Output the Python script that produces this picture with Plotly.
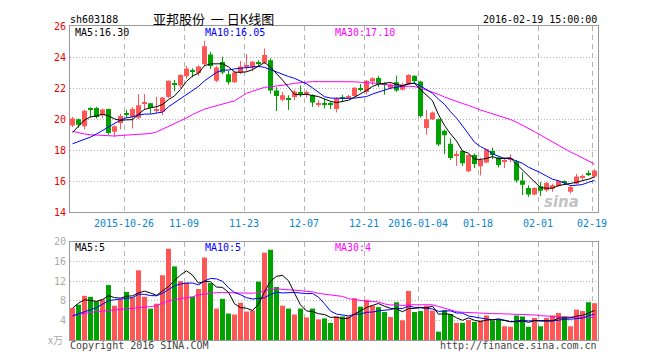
import plotly.graph_objects as go

# ---------------- data ----------------
trading_days = {
    "2015-10": [13, 14, 15, 16, 19, 20, 21, 22, 23, 26, 27, 28, 29, 30],
    "2015-11": [2, 3, 4, 5, 6, 9, 10, 11, 12, 13, 16, 17, 18, 19, 20, 23, 24, 25, 26, 27, 30],
    "2015-12": [1, 2, 3, 4, 7, 8, 9, 10, 11, 14, 15, 16, 17, 18, 21, 22, 23, 24, 25, 28, 29, 30, 31],
    "2016-01": [4, 5, 6, 7, 8, 11, 12, 13, 14, 15, 18, 19, 20, 21, 22, 25, 26, 27, 28, 29],
    "2016-02": [1, 2, 3, 4, 5, 15, 16, 17, 18, 19],
}
dates = [f"{m}-{d:02d}" for m, ds in trading_days.items() for d in ds]

opens = [19.60, 20.00, 19.55, 20.70, 20.72, 20.25, 20.65, 19.20, 19.75, 20.37,
         20.15, 20.10, 21.05, 21.02, 20.55, 20.48, 21.43, 22.30, 22.17, 22.76,
         23.10, 22.97, 23.54, 24.17, 22.48, 23.68, 22.90, 22.38, 23.01, 23.40,
         23.33, 23.65, 23.64, 23.79, 21.85, 21.26, 21.35, 21.43, 21.73, 21.70,
         21.54, 21.00, 21.02, 20.98, 20.65, 21.40, 21.40, 21.50, 21.98, 21.75,
         22.42, 22.65, 22.30, 22.02, 22.38, 21.90, 22.27, 22.80, 22.42, 19.43,
         20.00, 20.00, 19.26, 18.42, 17.68, 17.96, 16.65, 17.70, 16.97, 17.22,
         17.96, 17.54, 17.30, 17.40, 17.28, 16.06, 15.58, 15.16, 15.68, 15.43,
         15.54, 15.70, 15.98, 15.33, 15.85, 16.30, 16.50, 16.32]
highs = [20.15, 20.05, 20.60, 20.78, 20.80, 20.68, 20.68, 19.60, 20.35, 20.60,
         20.78, 21.62, 21.62, 21.05, 21.45, 21.43, 22.50, 22.53, 22.90, 23.43,
         23.28, 23.47, 25.05, 24.34, 23.43, 24.02, 23.12, 23.12, 23.75, 24.20,
         23.75, 23.80, 24.55, 23.92, 22.06, 21.75, 21.54, 21.90, 22.17, 21.85,
         21.60, 21.22, 21.33, 21.12, 21.40, 21.58, 21.58, 22.06, 22.27, 22.53,
         22.70, 22.80, 22.38, 22.34, 22.80, 22.34, 22.90, 22.82, 22.48, 20.59,
         20.50, 20.05, 19.33, 18.76, 17.96, 18.00, 17.75, 17.79, 17.53, 18.10,
         18.17, 17.60, 17.54, 17.75, 17.37, 16.59, 15.75, 15.62, 15.96, 15.96,
         15.85, 16.06, 16.06, 15.75, 16.48, 16.44, 16.70, 16.80]
lows = [19.50, 19.45, 19.35, 20.10, 20.05, 20.05, 19.00, 18.85, 19.35, 20.10,
        19.40, 20.00, 20.60, 20.35, 20.40, 20.27, 21.35, 21.80, 22.00, 22.60,
        22.70, 22.80, 23.43, 23.22, 22.38, 22.90, 22.23, 22.33, 22.90, 23.10,
        23.10, 23.43, 23.54, 21.64, 20.53, 21.16, 20.60, 21.22, 21.43, 21.40,
        20.80, 20.80, 20.69, 20.65, 20.44, 21.12, 21.33, 21.43, 21.79, 21.58,
        22.20, 22.06, 21.58, 21.90, 21.75, 21.85, 22.23, 22.27, 20.10, 19.00,
        19.95, 18.27, 17.75, 17.37, 17.00, 17.00, 16.59, 16.86, 16.38, 17.16,
        17.43, 16.90, 16.86, 17.22, 15.92, 15.12, 15.00, 15.10, 15.05, 15.33,
        15.33, 15.64, 15.85, 15.22, 15.79, 16.06, 16.34, 16.23]
closes = [20.05, 19.65, 20.55, 20.65, 20.15, 20.62, 19.12, 19.55, 20.20, 20.33,
          20.65, 20.90, 21.08, 20.72, 20.65, 21.39, 22.48, 22.25, 22.84, 23.26,
          23.05, 23.39, 24.69, 23.43, 23.33, 23.01, 22.38, 23.01, 23.39, 23.45,
          23.70, 23.60, 24.13, 21.85, 21.50, 21.54, 21.30, 21.79, 21.70, 21.73,
          21.07, 21.02, 21.00, 20.95, 21.33, 21.37, 21.45, 22.02, 21.95, 22.48,
          22.63, 22.23, 22.27, 22.23, 21.85, 22.23, 22.84, 22.44, 20.21, 20.00,
          20.44, 18.38, 18.97, 17.50, 17.72, 17.16, 17.70, 17.12, 17.37, 18.07,
          17.70, 17.05, 17.33, 17.43, 16.06, 15.79, 15.16, 15.58, 15.39, 15.90,
          15.75, 16.02, 15.96, 15.64, 16.32, 16.32, 16.48, 16.69]

ma5 = [19.15, 19.55, 19.95, 20.15, 20.21, 20.32, 20.22, 20.02, 19.93, 19.96,
       19.97, 20.33, 20.63, 20.74, 20.80, 20.95, 21.26, 21.50, 21.92, 22.44,
       22.78, 22.96, 23.45, 23.56, 23.58, 23.57, 23.37, 23.03, 23.02, 23.05,
       23.19, 23.43, 23.65, 23.35, 22.96, 22.52, 22.06, 21.60, 21.57, 21.61,
       21.52, 21.46, 21.30, 21.15, 21.07, 21.13, 21.22, 21.42, 21.62, 21.85,
       22.11, 22.26, 22.31, 22.37, 22.24, 22.16, 22.28, 22.32, 21.91, 21.54,
       21.19, 20.29, 19.60, 19.06, 18.60, 17.95, 17.81, 17.44, 17.41, 17.48,
       17.59, 17.46, 17.50, 17.52, 17.11, 16.73, 16.35, 16.00, 15.60, 15.56,
       15.56, 15.73, 15.80, 15.85, 15.94, 16.05, 16.14, 16.29]
ma10 = [18.42, 18.55, 18.68, 18.85, 19.05, 19.28, 19.50, 19.75, 19.95, 20.09,
        20.15, 20.27, 20.33, 20.33, 20.38, 20.46, 20.80, 21.07, 21.33, 21.62,
        21.86, 22.11, 22.47, 22.74, 23.01, 23.17, 23.16, 23.24, 23.29, 23.31,
        23.38, 23.40, 23.34, 23.19, 23.00, 22.86, 22.75, 22.63, 22.46, 22.28,
        22.02, 21.76, 21.45, 21.36, 21.34, 21.33, 21.34, 21.36, 21.39, 21.46,
        21.62, 21.74, 21.87, 22.00, 22.05, 22.13, 22.27, 22.32, 22.14, 21.89,
        21.67, 21.29, 20.96, 20.49, 20.07, 19.57, 19.05, 18.52, 18.24, 18.04,
        17.77, 17.64, 17.47, 17.47, 17.30, 17.16, 16.91, 16.75, 16.56, 16.34,
        16.14, 16.04, 15.90, 15.73, 15.75, 15.80, 15.94, 16.05]
ma30 = [19.22, 19.12, 19.05, 19.00, 18.97, 18.95, 18.92, 18.92, 18.95, 18.97,
        18.98, 19.00, 19.03, 19.08, 19.18, 19.35, 19.52, 19.70, 19.88, 20.08,
        20.30, 20.50, 20.65, 20.76, 20.88, 21.00, 21.08, 21.18, 21.40, 21.67,
        21.80, 21.93, 22.05, 22.09, 22.13, 22.16, 22.24, 22.31, 22.36, 22.41,
        22.42, 22.42, 22.42, 22.43, 22.45, 22.45, 22.42, 22.41, 22.38, 22.35,
        22.34, 22.30, 22.22, 22.18, 22.13, 22.11, 22.12, 22.10, 22.00, 21.88,
        21.77, 21.60, 21.43, 21.28, 21.15, 21.01, 20.89, 20.73, 20.59, 20.47,
        20.35, 20.22, 20.10, 19.98, 19.81, 19.62, 19.41, 19.20, 18.98, 18.76,
        18.53, 18.32, 18.11, 17.89, 17.71, 17.51, 17.30, 17.11]

volumes = [6.5, 7.2, 9.0, 8.8, 7.9, 8.3, 11.2, 7.0, 8.3, 9.8,
           8.7, 14.2, 8.8, 6.4, 7.4, 13.2, 18.6, 15.0, 12.0, 11.7,
           8.8, 10.4, 16.8, 11.6, 6.4, 8.4, 5.4, 5.2, 7.6, 5.8,
           6.0, 11.9, 17.8, 18.4, 10.8, 7.0, 6.4, 5.2, 6.4, 4.6,
           6.4, 4.2, 4.4, 3.5, 4.8, 4.8, 4.8, 8.5, 6.8, 8.2,
           7.0, 6.7, 5.7, 4.7, 7.7, 4.0, 10.0, 5.7, 5.9, 7.0,
           6.0, 1.7, 6.1, 5.3, 3.5, 3.5, 4.1, 3.7, 4.0, 5.0,
           4.0, 4.1, 2.8, 2.7, 5.0, 4.8, 2.7, 4.5, 2.8, 4.5,
           5.0, 5.5, 4.8, 2.8, 6.2, 5.9, 7.7, 7.5]
vma5 = [6.5, 7.5, 8.2, 8.1, 7.88, 8.24, 9.04, 8.64, 8.54, 8.92,
        9.0, 9.6, 9.96, 9.58, 9.1, 10.0, 10.88, 12.12, 13.24, 14.1,
        13.22, 11.58, 11.94, 11.86, 10.8, 10.72, 9.72, 7.4, 6.6, 6.48,
        6.0, 7.3, 9.82, 11.98, 12.98, 13.18, 12.08, 9.56, 7.16, 5.92,
        5.8, 5.36, 5.2, 4.62, 4.66, 4.34, 4.46, 5.28, 5.94, 6.62,
        7.06, 7.44, 6.88, 6.46, 6.36, 5.76, 6.42, 6.42, 6.66, 6.52,
        6.92, 5.26, 5.34, 5.22, 4.52, 4.02, 4.5, 4.02, 3.76, 4.06,
        4.16, 4.16, 3.98, 3.72, 3.72, 3.88, 3.6, 3.94, 3.96, 3.86,
        3.9, 4.46, 4.52, 4.52, 4.86, 5.04, 5.48, 6.02]
vma10 = [4.9, 5.3, 5.8, 6.1, 6.6, 7.3, 8.0, 8.2, 8.3, 8.40,
         8.62, 9.32, 9.3, 9.06, 9.01, 9.5, 10.24, 11.04, 11.41, 11.6,
         11.61, 11.23, 12.03, 12.55, 12.45, 11.97, 10.65, 9.67, 9.23, 8.64,
         8.36, 8.51, 8.61, 9.29, 9.73, 9.59, 9.69, 9.69, 9.57, 9.45,
         9.49, 8.72, 7.38, 5.89, 5.29, 5.07, 4.91, 5.24, 5.28, 5.64,
         5.7, 5.95, 6.08, 6.2, 6.49, 6.41, 6.93, 6.65, 6.56, 6.44,
         6.34, 5.84, 5.88, 5.94, 5.52, 5.47, 4.88, 4.68, 4.49, 4.29,
         4.09, 4.33, 4.0, 3.74, 3.89, 4.02, 3.88, 3.96, 3.84, 3.79,
         3.89, 4.03, 4.23, 4.24, 4.36, 4.47, 4.97, 5.27]
vma30 = [5.0, 5.2, 5.5, 5.65, 5.8, 5.9, 6.0, 6.15, 6.3, 6.35,
         6.4, 6.5, 6.6, 6.8, 7.0, 7.5, 8.0, 8.2, 8.35, 8.5,
         8.8, 9.2, 9.4, 9.55, 9.65, 9.67, 9.67, 9.65, 9.6, 9.55,
         9.53, 9.69, 9.98, 10.3, 10.4, 10.35, 10.19, 10.13, 10.07, 9.9,
         9.82, 9.49, 9.34, 9.24, 9.16, 8.88, 8.42, 8.2, 8.03, 7.91,
         7.85, 7.73, 7.36, 7.13, 7.17, 7.02, 7.18, 7.19, 7.14, 7.18,
         7.18, 6.84, 6.45, 6.01, 5.77, 5.65, 5.57, 5.52, 5.44, 5.46,
         5.38, 5.37, 5.32, 5.29, 5.3, 5.3, 5.23, 5.1, 4.96, 4.84,
         4.77, 4.73, 4.7, 4.64, 4.59, 4.65, 4.58, 4.64]

tick_dates = ["2015-10-26", "2015-11-09", "2015-11-23", "2015-12-07", "2015-12-21",
              "2016-01-04", "2016-01-18", "2016-02-01", "2016-02-19"]
tick_labels = ["2015-10-26", "11-09", "11-23", "12-07", "12-21",
               "2016-01-04", "01-18", "02-01", "02-19"]
price_ticks = [14, 16, 18, 20, 22, 24, 26]
vol_ticks = [4, 8, 12, 16, 20]

# ---------------- styling ----------------
RED = "#ff5656"
GREEN = "#00a200"
MONO = "DejaVu Sans Mono, Liberation Mono, monospace"
CJK = "Noto Sans CJK SC, DejaVu Sans Mono"
BAR_W = 5 / 6
EDGE = BAR_W / 2

n = len(dates)
xs = list(range(n))
up = [c >= o for o, c in zip(opens, closes)]
colors = [RED if u else GREEN for u in up]

MIN_BODY = 0.07
body_h = [max(abs(c - o), MIN_BODY) for o, c in zip(opens, closes)]
body_base = [min(o, c) - (h - abs(c - o)) / 2 for o, c, h in zip(opens, closes, body_h)]

fig = go.Figure()

# wicks
for flag, col in ((True, RED), (False, GREEN)):
    wx, wy = [], []
    for i in xs:
        if up[i] == flag:
            wx += [i, i, None]
            wy += [lows[i], highs[i], None]
    fig.add_trace(go.Scatter(x=wx, y=wy, mode="lines", line=dict(color=col, width=1),
                             hoverinfo="skip", xaxis="x", yaxis="y"))

# bodies
fig.add_trace(go.Bar(x=xs, y=body_h, base=body_base, width=BAR_W,
                     marker=dict(color=colors, line=dict(width=0)),
                     xaxis="x", yaxis="y", hoverinfo="skip"))

# price MAs
for arr, col in ((ma30, "#ff00ff"), (ma10, "#0000ff"), (ma5, "#000000")):
    fig.add_trace(go.Scatter(x=xs, y=arr, mode="lines", line=dict(color=col, width=1),
                             hoverinfo="skip", xaxis="x", yaxis="y"))

# volumes
fig.add_trace(go.Bar(x=xs, y=volumes, width=BAR_W, marker=dict(color=colors, line=dict(width=0)),
                     xaxis="x2", yaxis="y2", hoverinfo="skip"))
for arr, col in ((vma30, "#ff00ff"), (vma10, "#0000ff"), (vma5, "#000000")):
    fig.add_trace(go.Scatter(x=xs, y=arr, mode="lines", line=dict(color=col, width=1),
                             hoverinfo="skip", xaxis="x2", yaxis="y2"))

tick_pos = [dates.index(d) - EDGE for d in tick_dates]
xrange = [-EDGE, n - EDGE]

# the page body has an 8px margin; lay the figure out in page pixels
OFF = 8
W, H = 660 - OFF, 360 - OFF
L, T = 70 - OFF, 20 - OFF
PW, PH = 528, 320
R, B = W - L - PW, H - T - PH


def py(ypix):
    return (T + PH - (ypix - OFF)) / PH


def px(xpix):
    return (xpix - OFF - L) / PW


grid_x = dict(showgrid=True, gridcolor="#b4b4b4", gridwidth=1, griddash="5px,4px")
grid_y = dict(showgrid=True, gridcolor="#b4b4b4", gridwidth=1, griddash="1px,2px")
box = dict(showline=True, linecolor="#999999", linewidth=1, mirror=True, zeroline=False)

fig.update_layout(
    width=W, height=H,
    margin=dict(l=L, r=R, t=T, b=B, pad=0),
    paper_bgcolor="white", plot_bgcolor="white",
    showlegend=False, barmode="overlay",
    xaxis=dict(domain=[0, 1], anchor="y", range=xrange, tickvals=tick_pos, ticktext=tick_labels,
               tickfont=dict(family=MONO, size=10, color="#0a84d0"), ticks="", ticklabelstandoff=2,
               **grid_x, **box),
    yaxis=dict(domain=[py(210), 1], anchor="x", range=[14, 26], tickvals=price_ticks,
               tickfont=dict(family=MONO, size=10, color="#ee0000"), ticks="", ticklabelstandoff=1,
               **grid_y, **box),
    xaxis2=dict(domain=[0, 1], anchor="y2", range=xrange, tickvals=tick_pos, showticklabels=False,
                ticks="", **grid_x, **box),
    yaxis2=dict(domain=[0, py(240)], anchor="x2", range=[0, 20], tickvals=vol_ticks,
                tickfont=dict(family=MONO, size=10, color="#aaaaaa"), ticks="", ticklabelstandoff=1,
                **grid_y, **box),
)


def ann(text, xpix, ypix, xanchor="left", color="#000000", size=10, family=MONO, **kw):
    fig.add_annotation(text=text, x=px(xpix), y=py(ypix), xref="paper", yref="paper",
                       xanchor=xanchor, yanchor="middle", showarrow=False, borderpad=0,
                       font=dict(family=family, size=size, color=color), **kw)


ann("sh603188", 69, 13)
ann("亚邦股份\u00a0\u00a0一\u00a0日K线图", 213, 12, xanchor="center", size=13, family=CJK)
ann("2016-02-19 15:00:00", 598, 13, xanchor="right")
ann("MA5:16.30", 74, 27)
ann("MA10:16.05", 204, 27, color="#0000ff")
ann("MA30:17.10", 334, 27, color="#ff00ff")
ann("MA5:5", 74, 246)
ann("MA10:5", 204, 246, color="#0000ff")
ann("MA30:4", 334, 246, color="#ff00ff")
ann("x万", 64, 339, xanchor="right", color="#aaaaaa", size=10, family=CJK)
ann("Copyright 2016 SINA.COM", 69, 346, color="#444444")
ann("http://finance.sina.com.cn", 598, 346, xanchor="right", color="#444444")
fig.add_annotation(text="<b><i>sina</i></b>", x=px(581), y=py(199), xref="paper", yref="paper",
                   showarrow=False, font=dict(family="DejaVu Sans", size=15, color="#c4c4c4"))

fig.write_html("out.html")
